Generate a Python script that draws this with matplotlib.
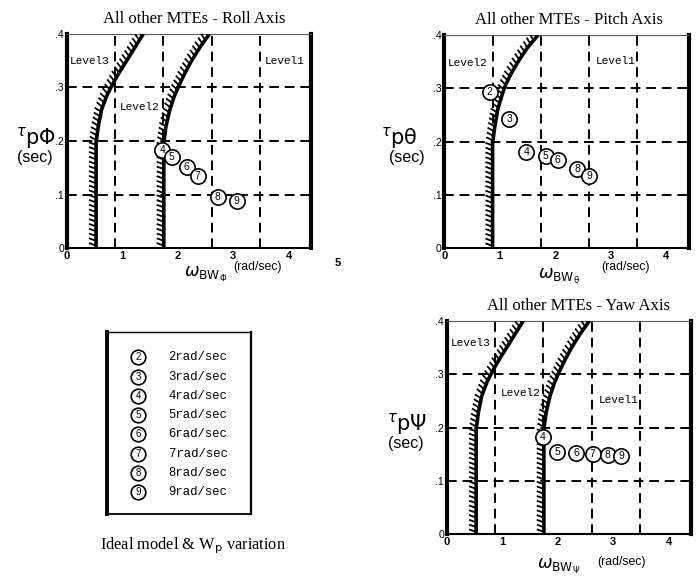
import numpy as np
import matplotlib
matplotlib.use("Agg")
import matplotlib.pyplot as plt
from matplotlib import patheffects

plt.rcParams['mathtext.fontset'] = 'dejavusans'

# level boundaries (bandwidth rad/sec vs phase delay sec)
tau_bnd = [0.0, 0.197, 0.228, 0.259, 0.284, 0.303, 0.325, 0.350, 0.375, 0.400]
lvl3_bw = [0.53, 0.53, 0.57, 0.63, 0.72, 0.81, 0.93, 1.08, 1.23, 1.38]
lvl2_bw = [1.75, 1.75, 1.79, 1.86, 1.94, 2.02, 2.12, 2.25, 2.40, 2.57]
pitch_bnd_bw = [0.87, 0.87, 0.91, 0.96, 1.03, 1.09, 1.19, 1.33, 1.49, 1.69]

grid_x = [0.87, 1.74, 2.61, 3.48]
grid_y = [0.1, 0.2, 0.3]

# model results, labelled by Wp (rad/sec)
roll_ids = [4, 5, 6, 7, 8, 9]
roll_bw = [1.72, 1.89, 2.16, 2.36, 2.72, 3.06]
roll_tau = [0.184, 0.171, 0.151, 0.134, 0.095, 0.088]

pitch_ids = [2, 3, 4, 5, 6, 8, 9]
pitch_bw = [0.82, 1.17, 1.48, 1.83, 2.04, 2.39, 2.61]
pitch_tau = [0.294, 0.242, 0.180, 0.173, 0.166, 0.148, 0.136]

yaw_ids = [4, 5, 6, 7, 8, 9]
yaw_bw = [1.73, 1.99, 2.33, 2.63, 2.90, 3.14]
yaw_tau = [0.182, 0.154, 0.152, 0.151, 0.148, 0.146]

legend_ids = [2, 3, 4, 5, 6, 7, 8, 9]

SERIF = 'Liberation Serif'
MONO = 'Liberation Mono'
SANS = 'Liberation Sans'


def circled(ax, x, y, n, ms=11, fs=7.5):
    ax.plot([x], [y], 'o', ms=ms, mfc='white', mec='black', mew=1.2,
            zorder=6, clip_on=False)
    ax.text(x, y, str(n), ha='center', va='center', fontsize=fs,
            family=SANS, zorder=7)


def setup(ax, title, title_x, sym, lab, curves, levels, pts):
    ax.set_xlim(0, 4.4)
    ax.set_ylim(0, 0.4)
    for v in grid_x:
        ax.axvline(v, color='black', lw=1.4, ls=(0, (5, 3)), zorder=1)
    for h in grid_y:
        ax.axhline(h, color='black', lw=1.4, ls=(0, (5, 3)), zorder=1)
    for bw in curves:
        ax.plot(bw, tau_bnd, color='black', lw=2.6, zorder=3,
                solid_capstyle='butt', solid_joinstyle='round',
                path_effects=[patheffects.withTickedStroke(
                    spacing=3.4, angle=70, length=1.6, linewidth=1.3)])
    for txt, x, y in levels:
        ax.text(x, y, txt, family=MONO, fontsize=8, ha='left', va='center', zorder=4)
    ids, bw, tau = pts
    for n, x, y in zip(ids, bw, tau):
        circled(ax, x, y, n)

    ax.set_xticks([0, 1, 2, 3, 4])
    ax.set_xticklabels(['0', '1', '2', '3', '4'], family=SANS, fontsize=8, weight='bold')
    ax.set_yticks([0, 0.1, 0.2, 0.3, 0.4])
    ax.set_yticklabels(['0', '.1', '.2', '.3', '.4'], family=SANS, fontsize=7.5)
    ax.tick_params(length=0, pad=2)
    ax.spines['left'].set_linewidth(3)
    ax.spines['right'].set_linewidth(3)
    ax.spines['top'].set_linewidth(0.8)
    ax.spines['top'].set_color('0.35')
    ax.spines['bottom'].set_linewidth(1.5)
    ax.text(title_x, 1.07, title, transform=ax.transAxes, family=SERIF,
            fontsize=12, ha='center', va='center')

    # axis labels
    ty, sx, wx, wy, rx, ry = lab
    ax.text(ty, 0.515, r'$^{\tau}\mathsf{p}%s$' % sym, transform=ax.transAxes,
            ha='right', va='center', fontsize=15)
    ax.text(sx, 0.425, '(sec)', transform=ax.transAxes, ha='right', va='center',
            family=SANS, fontsize=11.5)
    ax.text(wx, wy, r'$\omega_{\mathsf{BW}_{%s}}$' % sym, transform=ax.transAxes,
            ha='center', va='center', fontsize=12.5)
    ax.text(rx, ry, '(rad/sec)', transform=ax.transAxes, ha='center',
            va='center', family=SANS, fontsize=8.8)


fig = plt.figure(figsize=(6.98, 5.80), dpi=100)

ax_roll = fig.add_axes([0.0955, 0.5724, 0.350, 0.369])
setup(ax_roll, 'All other MTEs - Roll Axis', 0.52, r'\Phi',
      (-0.045, -0.056, 0.57, -0.125, 0.78, -0.09),
      [lvl3_bw, lvl2_bw],
      [('Level3', 0.06, 0.35), ('Level2', 0.96, 0.263), ('Level1', 3.57, 0.35)],
      (roll_ids, roll_bw, roll_tau))
# extra "5" beyond the right edge of the roll scale
ax_roll.text(4.88, -0.018, '5', ha='center', va='top', family=SANS, fontsize=8,
             weight='bold', clip_on=False)

ax_pitch = fig.add_axes([0.6365, 0.5719, 0.350, 0.3678])
setup(ax_pitch, 'All other MTEs - Pitch Axis', 0.51, r'\mathrm{\theta}',
      (-0.11, -0.08, 0.47, -0.13, 0.74, -0.09),
      [pitch_bnd_bw],
      [('Level2', 0.06, 0.347), ('Level1', 2.72, 0.352)],
      (pitch_ids, pitch_bw, pitch_tau))

ax_yaw = fig.add_axes([0.640, 0.0788, 0.350, 0.368])
setup(ax_yaw, 'All other MTEs - Yaw Axis', 0.54, r'\Psi',
      (-0.08, -0.093, 0.46, -0.152, 0.715, -0.128),
      [lvl3_bw, lvl2_bw],
      [('Level3', 0.08, 0.359), ('Level2', 0.98, 0.265), ('Level1', 2.73, 0.252)],
      (yaw_ids, yaw_bw, yaw_tau))

# legend box
ax_leg = fig.add_axes([0.153, 0.1138, 0.206, 0.3142])
ax_leg.set_xlim(0, 1)
ax_leg.set_ylim(0, 1)
ax_leg.set_xticks([])
ax_leg.set_yticks([])
ax_leg.spines['left'].set_linewidth(2.8)
ax_leg.spines['right'].set_linewidth(1.6)
ax_leg.spines['top'].set_linewidth(1.0)
ax_leg.spines['bottom'].set_linewidth(1.3)
rows = np.linspace(0.86, 0.12, len(legend_ids))
for n, y in zip(legend_ids, rows):
    circled(ax_leg, 0.22, y, n, ms=10.5, fs=7)
    ax_leg.text(0.43, y, '%drad/sec' % n, family=MONO, fontsize=8.8, va='center', ha='left')

fig.text(0.277, 0.060, r'Ideal model & W$_\mathrm{p}$ variation', family=SERIF,
         fontsize=11.8, ha='center', va='center')

fig.savefig('out.png', dpi=100)
